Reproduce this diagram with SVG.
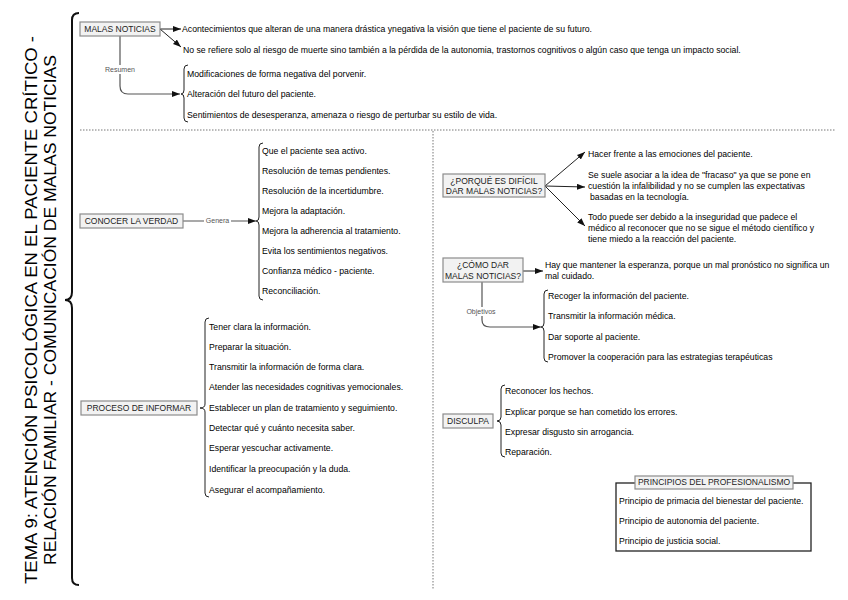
<svg xmlns="http://www.w3.org/2000/svg" width="848" height="600" viewBox="0 0 848 600">
<defs>
<marker id="ah" markerWidth="8" markerHeight="6" refX="8" refY="3" orient="auto" markerUnits="userSpaceOnUse">
<path d="M0,0 L8,3 L0,6 z" fill="#111"/>
</marker>
<style>
text{font-family:"Liberation Sans",Arial,sans-serif;fill:#000}
.t{font-size:8.7px}
.b{font-size:8.5px;text-anchor:middle;fill:#222}
.lbl{font-size:7px;fill:#555;text-anchor:middle}
.box{fill:#f2f2f2;stroke:#8c8c8c;stroke-width:1.2}
.con{fill:none;stroke:#222;stroke-width:1}
.cong{fill:none;stroke:#555;stroke-width:1.2}
.br{fill:none;stroke:#222;stroke-width:1}
.sep{fill:none;stroke:#777;stroke-width:1;stroke-dasharray:1.5 1.5}
.title{font-size:17px;text-anchor:middle}
</style>
</defs>
<rect width="848" height="600" fill="#fff"/>

<g id="title">
<text class="title" transform="translate(37,310) rotate(-90)" textLength="548" lengthAdjust="spacingAndGlyphs">TEMA 9: ATENCIÓN PSICOLÓGICA EN EL PACIENTE CRÍTICO -</text>
<text class="title" transform="translate(56,310) rotate(-90)" textLength="510" lengthAdjust="spacingAndGlyphs">RELACIÓN FAMILIAR - COMUNICACIÓN DE MALAS NOTICIAS</text>
<path d="M79,13 Q72,13 72,20 V292 Q72,300 65,300 Q72,300 72,308 V578 Q72,585 79,585" fill="none" stroke="#111" stroke-width="2"/>
</g>

<g id="separators">
<path class="sep" d="M80,130 H836"/>
<path class="sep" d="M433,131 V590"/>
</g>

<g id="connectors">
<path class="con" d="M160,29 H181" marker-end="url(#ah)"/>
<path class="con" d="M160,29 L181,47" marker-end="url(#ah)"/>
<path class="cong" d="M120,36 V86 Q120,94 128,94 H180" marker-end="url(#ah)"/>
<rect x="103" y="65" width="34" height="9" fill="#fff"/>
<text class="lbl" x="120" y="72">Resumen</text>
<path class="cong" d="M183,221 H256" marker-end="url(#ah)"/>
<rect x="204" y="216" width="27" height="9" fill="#fff"/>
<text class="lbl" x="217.5" y="223">Genera</text>
<path class="con" d="M545,186 L585,152" marker-end="url(#ah)"/>
<path class="con" d="M545,186 L585,187" marker-end="url(#ah)"/>
<path class="con" d="M545,186 L585,226" marker-end="url(#ah)"/>
<path class="con" d="M523,271 H543" marker-end="url(#ah)"/>
<path class="cong" d="M482,282 V320 Q482,327 490,327 H541" marker-end="url(#ah)"/>
<rect x="463" y="307" width="37" height="9" fill="#fff"/>
<text class="lbl" x="481" y="314">Objetivos</text>
</g>

<g id="malas-noticias">
<rect class="box" x="80" y="22" width="80" height="14"/>
<text class="b" x="120" y="32">MALAS NOTICIAS</text>
<text class="t" x="182" y="32">Acontecimientos que alteran de una manera drástica ynegativa la visión que tiene el paciente de su futuro.</text>
<text class="t" x="183" y="53">No se refiere solo al riesgo de muerte sino también a la pérdida de la autonomia, trastornos cognitivos o algún caso que tenga un impacto social.</text>
<path class="br" d="M188,65 Q184,65 184,69 V90 Q184,94 181,94 Q184,94 184,98 V118 Q184,122 188,122"/>
<text class="t" x="187" y="77">Modificaciones de forma negativa del porvenir.</text>
<text class="t" x="187" y="97">Alteración del futuro del paciente.</text>
<text class="t" x="187" y="118">Sentimientos de desesperanza, amenaza o riesgo de perturbar su estilo de vida.</text>
</g>

<g id="conocer-la-verdad">
<rect class="box" x="80" y="214" width="103" height="14"/>
<text class="b" x="131.5" y="224">CONOCER LA VERDAD</text>
<path class="br" d="M263,143 Q259,143 259,147 V217 Q259,221 256,221 Q259,221 259,225 V296 Q259,300 263,300"/>
<text class="t" x="262" y="154">Que el paciente sea activo.</text>
<text class="t" x="262" y="174">Resolución de temas pendientes.</text>
<text class="t" x="262" y="194">Resolución de la incertidumbre.</text>
<text class="t" x="262" y="214">Mejora la adaptación.</text>
<text class="t" x="262" y="234">Mejora la adherencia al tratamiento.</text>
<text class="t" x="262" y="254">Evita los sentimientos negativos.</text>
<text class="t" x="262" y="274">Confianza médico - paciente.</text>
<text class="t" x="262" y="294">Reconciliación.</text>
</g>

<g id="proceso-de-informar">
<rect class="box" x="81" y="401" width="116" height="14"/>
<text class="b" x="139" y="411">PROCESO DE INFORMAR</text>
<path class="br" d="M209,318 Q205,318 205,322 V404 Q205,408 200,408 Q205,408 205,412 V493 Q205,497 209,497"/>
<text class="t" x="209" y="330">Tener clara la información.</text>
<text class="t" x="209" y="350">Preparar la situación.</text>
<text class="t" x="209" y="370">Transmitir la información de forma clara.</text>
<text class="t" x="209" y="390">Atender las necesidades cognitivas yemocionales.</text>
<text class="t" x="209" y="411">Establecer un plan de tratamiento y seguimiento.</text>
<text class="t" x="209" y="431">Detectar qué y cuánto necesita saber.</text>
<text class="t" x="209" y="451">Esperar yescuchar activamente.</text>
<text class="t" x="209" y="472">Identificar la preocupación y la duda.</text>
<text class="t" x="209" y="493">Asegurar el acompañamiento.</text>
</g>

<g id="porque-es-dificil">
<rect class="box" x="443" y="174" width="102" height="23"/>
<text class="b" x="494" y="184">¿PORQUÉ ES DIFÍCIL</text>
<text class="b" x="494" y="194">DAR MALAS NOTICIAS?</text>
<text class="t" x="588" y="157">Hacer frente a las emociones del paciente.</text>
<text class="t" x="588" y="178">Se suele asociar a la idea de "fracaso" ya que se pone en</text>
<text class="t" x="588" y="189">cuestión la infalibilidad y no se cumplen las expectativas</text>
<text class="t" x="590" y="200">basadas en la tecnología.</text>
<text class="t" x="588" y="220">Todo puede ser debido a la inseguridad que padece el</text>
<text class="t" x="588" y="231">médico al reconocer que no se sigue el método científico y</text>
<text class="t" x="588" y="242">tiene miedo a la reacción del paciente.</text>
</g>

<g id="como-dar">
<rect class="box" x="443" y="258" width="80" height="24"/>
<text class="b" x="483" y="268">¿CÓMO DAR</text>
<text class="b" x="483" y="279">MALAS NOTICIAS?</text>
<text class="t" x="545" y="268">Hay que mantener la esperanza, porque un mal pronóstico no significa un</text>
<text class="t" x="545" y="279">mal cuidado.</text>
<path class="br" d="M548,290 Q544,290 544,294 V323 Q544,327 541,327 Q544,327 544,331 V358 Q544,362 548,362"/>
<text class="t" x="548" y="299">Recoger la información del paciente.</text>
<text class="t" x="548" y="319">Transmitir la información médica.</text>
<text class="t" x="548" y="340">Dar soporte al paciente.</text>
<text class="t" x="548" y="360">Promover la cooperación para las estrategias terapéuticas</text>
</g>

<g id="disculpa">
<rect class="box" x="443" y="414" width="50" height="14"/>
<text class="b" x="468" y="424">DISCULPA</text>
<path class="br" d="M505,385 Q501,385 501,389 V417 Q501,421 497,421 Q501,421 501,425 V453 Q501,457 505,457"/>
<text class="t" x="505" y="394">Reconocer los hechos.</text>
<text class="t" x="505" y="415">Explicar porque se han cometido los errores.</text>
<text class="t" x="505" y="435">Expresar disgusto sin arrogancia.</text>
<text class="t" x="505" y="455">Reparación.</text>
</g>

<g id="principios">
<rect x="616" y="483" width="195" height="68" fill="none" stroke="#222" stroke-width="1.3"/>
<rect class="box" x="635" y="476" width="158" height="13"/>
<text class="b" x="714" y="485">PRINCIPIOS DEL PROFESIONALISMO</text>
<text class="t" x="619" y="504">Principio de primacia del bienestar del paciente.</text>
<text class="t" x="619" y="524">Principio de autonomia del paciente.</text>
<text class="t" x="619" y="544">Principio de justicia social.</text>
</g>
</svg>
